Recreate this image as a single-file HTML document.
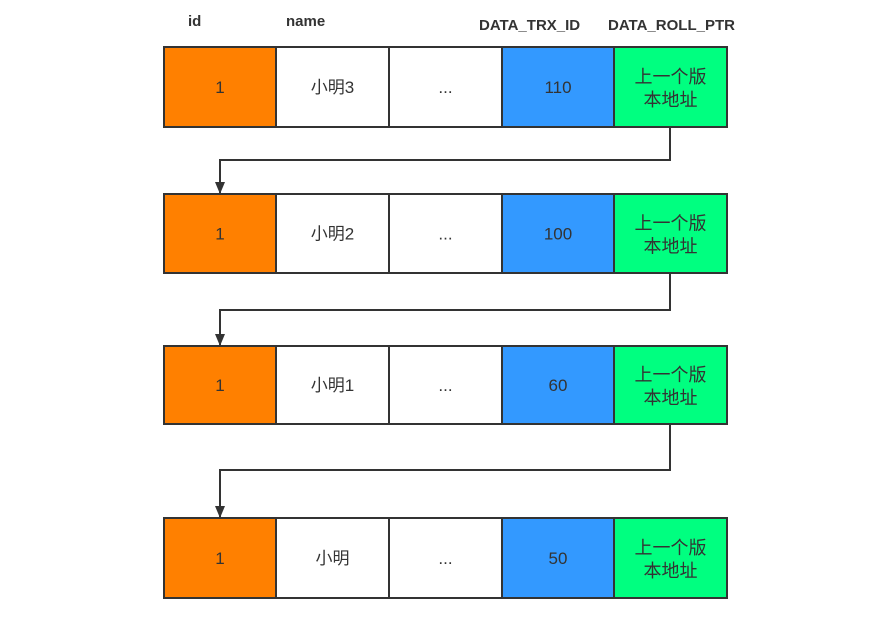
<!DOCTYPE html>
<html><head><meta charset="utf-8"><style>
html,body{margin:0;padding:0;background:#fff;}
svg{display:block;font-family:"Liberation Sans","Noto Sans CJK SC",sans-serif;}
</style></head><body>
<svg width="883" height="627" viewBox="0 0 883 627">
<defs><marker id="ah" markerWidth="10" markerHeight="12" refX="5" refY="11" orient="0" markerUnits="userSpaceOnUse"><path d="M0,0 L10,0 L5,12 Z" fill="#333"/></marker></defs>
<g font-weight="bold" font-size="15" fill="#333">
<text x="188" y="26">id</text>
<text x="286" y="26">name</text>
<text x="479" y="30">DATA_TRX_ID</text>
<text x="608" y="30">DATA_ROLL_PTR</text>
</g>
<g id="rows"></g>
</svg>
<script>
const rowTops=[47,194,346,518];
const rowHeights=[80,79,78,80];
const names=['小明3','小明2','小明1','小明'];
const trxIds=['110','100','60','50'];
const arrowYs=[160,310,470];
const ns='http://www.w3.org/2000/svg';
const g=document.getElementById('rows');
const colX=[164,276,389,502,614,727];
const fills=['#ff8000','#ffffff','#ffffff','#3399ff','#00ff80'];
function mk(t,a){const e=document.createElementNS(ns,t);for(const k in a)e.setAttribute(k,a[k]);return e;}
rowTops.forEach((top,i)=>{
  const h=rowHeights[i];
  const row=mk('g',{});
  
  
  const texts=['1',names[i],'...',trxIds[i],null];
  const cellNames=['id-cell','name-cell','other-cell','trx-id-cell','roll-ptr-cell'];
  for(let c=0;c<5;c++){
    const r=mk('rect',{x:colX[c],y:top,width:colX[c+1]-colX[c],height:h,fill:fills[c],stroke:'#333','stroke-width':2});
    
    
    row.appendChild(r);
    const cx=(colX[c]+colX[c+1])/2;
    if(texts[c]!==null){
      const t=mk('text',{x:cx,y:top+h/2+6,'text-anchor':'middle','font-size':17,fill:'#333'});
      t.textContent=texts[c];
      
      
      row.appendChild(t);
    } else {
      const t1=mk('text',{x:cx,y:top+h/2-4,'text-anchor':'middle','font-size':18,fill:'#333'});
      t1.textContent='上一个版';
      
      
      const t2=mk('text',{x:cx,y:top+h/2+19,'text-anchor':'middle','font-size':18,fill:'#333'});
      t2.textContent='本地址';
      
      
      row.appendChild(t1);row.appendChild(t2);
    }
  }
  g.appendChild(row);
});
arrowYs.forEach((y,i)=>{
  const y0=rowTops[i]+rowHeights[i], y1=rowTops[i+1]-1;
  const p=mk('path',{d:`M670,${y0} L670,${y} L220,${y} L220,${y1}`,fill:'none',stroke:'#333','stroke-width':2,'marker-end':'url(#ah)'});
  
  
  g.appendChild(p);
});
</script>
</body></html>
